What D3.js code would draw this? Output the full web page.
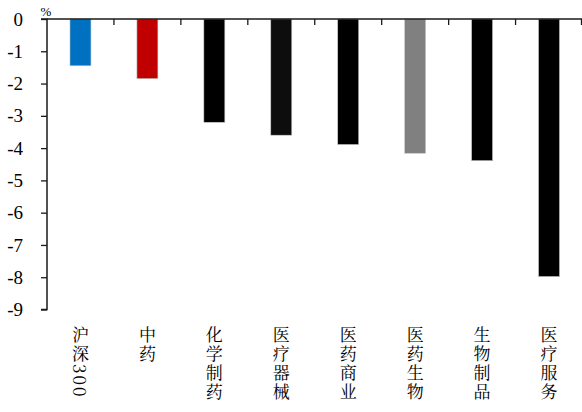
<!DOCTYPE html>
<html>
<head>
<meta charset="utf-8">
<script src="https://cdn.jsdelivr.net/npm/d3@7/dist/d3.min.js"></script>
<style>
  html, body { margin: 0; padding: 0; background: #fff; }
  svg { display: block; }
</style>
</head>
<body>
<svg id="chart" width="582" height="412"></svg>
<script>
// Sector returns (%), compared with the CSI 300 index
const categories = ["沪深300", "中药", "化学制药", "医疗器械", "医药商业", "医药生物", "生物制品", "医疗服务"];
const values = [-1.45, -1.85, -3.2, -3.6, -3.89, -4.16, -4.39, -7.98];
const barColors = ["#0070C0", "#C00000", "#000000", "#0d0d0d", "#000000", "#808080", "#000000", "#000000"];
const yTicks = [0, -1, -2, -3, -4, -5, -6, -7, -8, -9];
const unitLabel = "%";

const latinFont = "'Liberation Serif'";
const cjkFont = "'Noto Serif CJK SC'";

const svg = d3.select("#chart");
const margin = { left: 47, right: 0, top: 19, bottom: 102 };
const width = 582, height = 412;

const x = d3.scaleBand()
  .domain(categories)
  .range([margin.left, 582.5])
  .paddingInner(0)
  .paddingOuter(0);

const y = d3.scaleLinear()
  .domain([0, -9])
  .range([margin.top, height - margin.bottom - 0.5]);

const barW = 21;

// bars
svg.append("g")
  .selectAll("rect")
  .data(values)
  .join("rect")
  .attr("x", (d, i) => x(categories[i]) + x.bandwidth() / 2 - barW / 2)
  .attr("y", y(0))
  .attr("width", barW)
  .attr("height", d => y(d) - y(0))
  .attr("fill", (d, i) => barColors[i])
  .attr("stroke", "#c8c8c8")
  .attr("stroke-width", 0.6);

// y axis
const yAxis = d3.axisLeft(y)
  .tickValues(yTicks)
  .tickFormat(d => d === 0 ? "0" : "-" + Math.abs(d))
  .tickSize(6)
  .tickPadding(18);

const gy = svg.append("g")
  .attr("transform", `translate(${margin.left},0)`)
  .call(yAxis);
gy.select(".domain").attr("stroke", "#1a1a1a").attr("stroke-width", 1.5)
  .attr("d", `M-6,${y(0)}H0V${y(-9)}H-6`);
gy.selectAll(".tick line").attr("stroke", "#1a1a1a").attr("stroke-width", 1.3);
gy.selectAll(".tick text")
  .style("font-family", latinFont)
  .style("font-size", "19px")
  .attr("fill", "#000");

// category axis along zero line, ticks at band boundaries
const gx = svg.append("g");
gx.append("line")
  .attr("x1", margin.left).attr("x2", 582)
  .attr("y1", y(0)).attr("y2", y(0))
  .attr("stroke", "#1a1a1a").attr("stroke-width", 1.5);
const bounds = categories.slice(1).map(c => x(c)).concat([x(categories[categories.length - 1]) + x.bandwidth() - 1]);
gx.selectAll("line.tk")
  .data(bounds)
  .join("line")
  .attr("class", "tk")
  .attr("x1", d => d).attr("x2", d => d)
  .attr("y1", y(0)).attr("y2", y(0) + 6)
  .attr("stroke", "#1a1a1a").attr("stroke-width", 1.3);

// vertical category labels
svg.append("g")
  .selectAll("text")
  .data(categories)
  .join("text")
  .attr("x", d => x(d) + x.bandwidth() / 2)
  .attr("y", 326)
  .style("writing-mode", "vertical-rl")
  .style("font-family", cjkFont)
  .style("font-size", "17px")
  .attr("letter-spacing", 2)
  .attr("fill", "#000")
  .text(d => d);

// unit label
svg.append("text")
  .attr("x", 46)
  .attr("y", 16)
  .attr("text-anchor", "middle")
  .style("font-family", latinFont)
  .style("font-size", "13px")
  .attr("fill", "#000")
  .text(unitLabel);
</script>
</body>
</html>
